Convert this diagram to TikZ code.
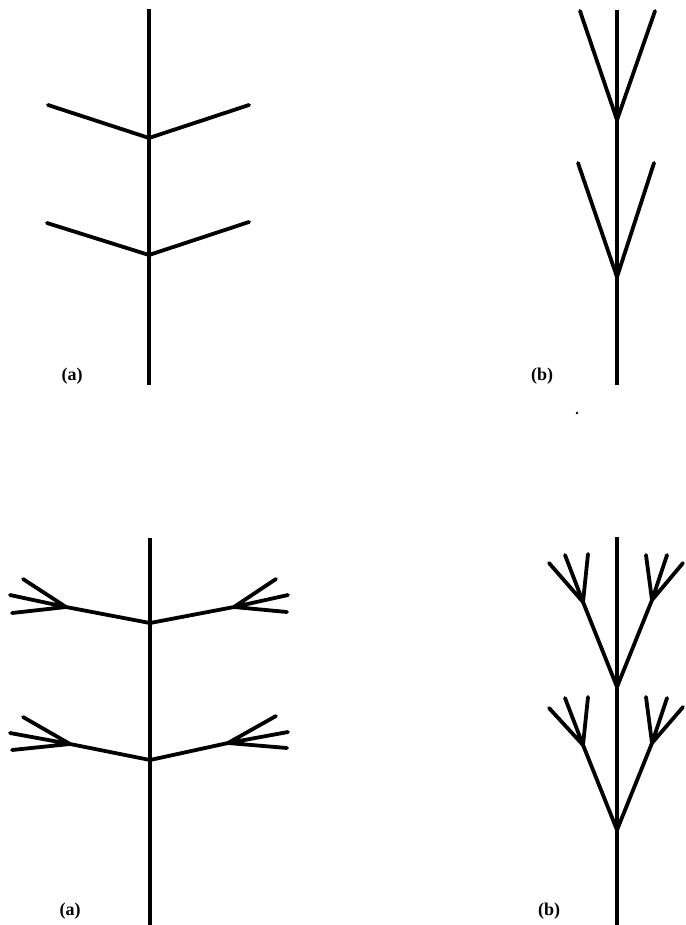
\documentclass[tikz,border=0pt]{standalone}
\usepackage{fontspec}
\setmainfont{Liberation Serif}
\tikzset{
  trunk/.style={line width=4.3pt, line cap=butt},
  limb/.style={line width=3.8pt, line cap=round, line join=round},
  lab/.style={font=\fontsize{18}{18}\selectfont\bfseries, inner sep=0pt},
}
\begin{document}
\begin{tikzpicture}[x=1pt,y=-1pt]
\useasboundingbox (0,0) rectangle (685,925);
% ---------- top left (a)
\coordinate (ta0) at (149,9);
\coordinate (ta1) at (149,385);
\coordinate (taj1) at (149,138);
\coordinate (taj2) at (149,255);
\coordinate (tal1) at (48,105);
\coordinate (tar1) at (249,105);
\coordinate (tal2) at (47,223);
\coordinate (tar2) at (249,222);
\draw[trunk] (ta0) -- (ta1);
\draw[limb] (tal1) -- (taj1) -- (tar1);
\draw[limb] (tal2) -- (taj2) -- (tar2);
\node[lab] (la1) at (72,376) {(a)};
% ---------- top right (b)
\coordinate (tb0) at (617,10);
\coordinate (tb1) at (617,385);
\coordinate (tbj1) at (617,120);
\coordinate (tbj2) at (617,277);
\coordinate (tbl1) at (580,11);
\coordinate (tbr1) at (655,11);
\coordinate (tbl2) at (578,163);
\coordinate (tbr2) at (654,163);
\draw[trunk] (tb0) -- (tb1);
\draw[limb] (tbl1) -- (tbj1) -- (tbr1);
\draw[limb] (tbl2) -- (tbj2) -- (tbr2);
\node[lab] (lb1) at (542,376) {(b)};
\fill (577,413) circle (1.3pt);
% ---------- bottom left (a)
\coordinate (ba0) at (150,538);
\coordinate (ba1) at (150,925);
\coordinate (baj1) at (150,623);
\coordinate (baj2) at (150,760);
\coordinate (bfl1) at (66,607);
\coordinate (bfr1) at (234,607);
\coordinate (bfl2) at (70,744);
\coordinate (bfr2) at (228,743);
\draw[trunk] (ba0) -- (ba1);
\draw[limb] (bfl1) -- (baj1) -- (bfr1);
\draw[limb] (bfl2) -- (baj2) -- (bfr2);
\draw[limb] (bfl1) -- (23,579) (bfl1) -- (10,595) (bfl1) -- (12,613);
\draw[limb] (bfr1) -- (276,579) (bfr1) -- (288,595) (bfr1) -- (287,612);
\draw[limb] (bfl2) -- (23,717) (bfl2) -- (10,733) (bfl2) -- (12,750);
\draw[limb] (bfr2) -- (276,716) (bfr2) -- (288,732) (bfr2) -- (287,748);
\node[lab] (la2) at (70,911) {(a)};
% ---------- bottom right (b)
\coordinate (bb0) at (617,537);
\coordinate (bb1) at (617,925);
\coordinate (bbj1) at (617,687);
\coordinate (bbj2) at (617,830);
\coordinate (bgl1) at (583,602);
\coordinate (bgr1) at (652,600);
\coordinate (bgl2) at (583,745);
\coordinate (bgr2) at (652,743);
\draw[trunk] (bb0) -- (bb1);
\draw[limb] (bgl1) -- (bbj1) -- (bgr1);
\draw[limb] (bgl2) -- (bbj2) -- (bgr2);
\draw[limb] (bgl1) -- (549,563) (bgl1) -- (565,555) (bgl1) -- (588,554);
\draw[limb] (bgr1) -- (646,555) (bgr1) -- (667,555) (bgr1) -- (683,563);
\draw[limb] (bgl2) -- (549,708) (bgl2) -- (565,698) (bgl2) -- (588,697);
\draw[limb] (bgr2) -- (646,697) (bgr2) -- (667,698) (bgr2) -- (683,707);
\node[lab] (lb2) at (549,911) {(b)};
\end{tikzpicture}
\end{document}
